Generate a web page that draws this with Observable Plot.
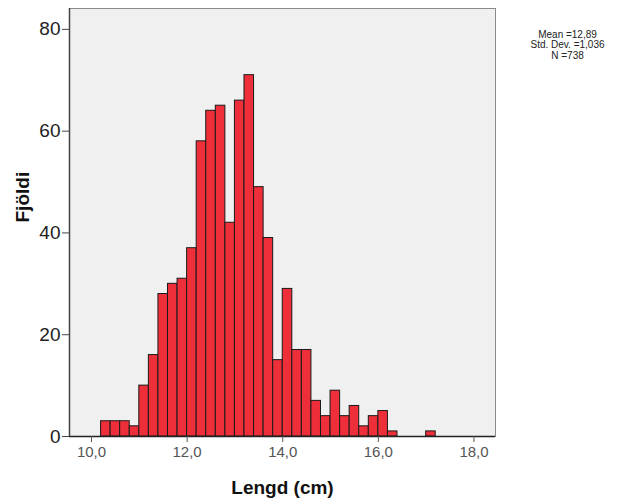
<!DOCTYPE html>
<html>
<head>
<meta charset="utf-8">
<script src="https://cdn.jsdelivr.net/npm/d3@7"></script>
<script src="https://cdn.jsdelivr.net/npm/@observablehq/plot@0.6"></script>
<style>
  body { margin: 0; background: #fff; }
  svg { font-family: "Liberation Sans", Arial, sans-serif; }
</style>
</head>
<body>
<div id="chart"></div>
<script>
const binStarts = [10.2,10.4,10.6,10.8,11.0,11.2,11.4,11.6,11.8,12.0,12.2,12.4,12.6,12.8,13.0,13.2,13.4,13.6,13.8,14.0,14.2,14.4,14.6,14.8,15.0,15.2,15.4,15.6,15.8,16.0,16.2,17.0];
const counts    = [3,3,3,2,10,16,28,30,31,37,58,64,65,42,66,71,49,39,15,29,17,17,7,4,9,4,6,2,4,5,1,1];
const binWidth = 0.2;
const xTicks = [10,12,14,16,18];
const yTicks = [0,20,40,60,80];
const statsLines = ["Mean =12,89", "Std. Dev. =1,036", "N =738"];
const xTitle = "Lengd (cm)";
const yTitle = "Fjöldi";

const bins = binStarts.map((s, i) => ({x1: s, x2: +(s + binWidth).toFixed(1), count: counts[i]}));
const fmt = d => d3.format(".1f")(d).replace(".", ",");

const chart = Plot.plot({
  width: 619,
  height: 504,
  marginLeft: 69,
  marginRight: 124,
  marginTop: 8,
  marginBottom: 68,
  style: {fontFamily: "'Liberation Sans', Arial, sans-serif", background: "#fff"},
  x: {domain: [9.54, 18.45], label: null},
  y: {domain: [0, 84.1], label: null},
  marks: [
    Plot.frame({fill: "#f0f0f0", stroke: "#8a8a8a"}),
    Plot.rectY(bins, {x1: "x1", x2: "x2", y: "count", fill: "#ee2f3a", stroke: "#1a1a1a", strokeWidth: 1, insetLeft: 0, insetRight: 0}),
    Plot.ruleY([0], {stroke: "#222", strokeWidth: 1.5}),
    Plot.ruleX([9.54], {stroke: "#444", strokeWidth: 1.5}),
    Plot.axisX({ticks: xTicks, tickFormat: fmt, tickSize: 6, tickPadding: 4, fontSize: 15, color: "#555", stroke: "#555", label: null}),
    Plot.axisY({ticks: yTicks, tickSize: 7, tickPadding: 2, fontSize: 19, color: "#222", stroke: "#444", label: null}),
    Plot.text([xTitle], {frameAnchor: "bottom", dy: 57, fontSize: 19, fontWeight: "bold", fill: "#111"}),
    Plot.text([yTitle], {frameAnchor: "left", dx: -47, rotate: -90, fontSize: 19, fontWeight: "bold", fill: "#111"}),
    Plot.text([statsLines.join("\n")], {frameAnchor: "top-right", dx: 72, dy: 22, textAnchor: "middle", fontSize: 10, lineHeight: 1.05, fill: "#222"})
  ]
});
document.getElementById("chart").appendChild(chart);
</script>
</body>
</html>
